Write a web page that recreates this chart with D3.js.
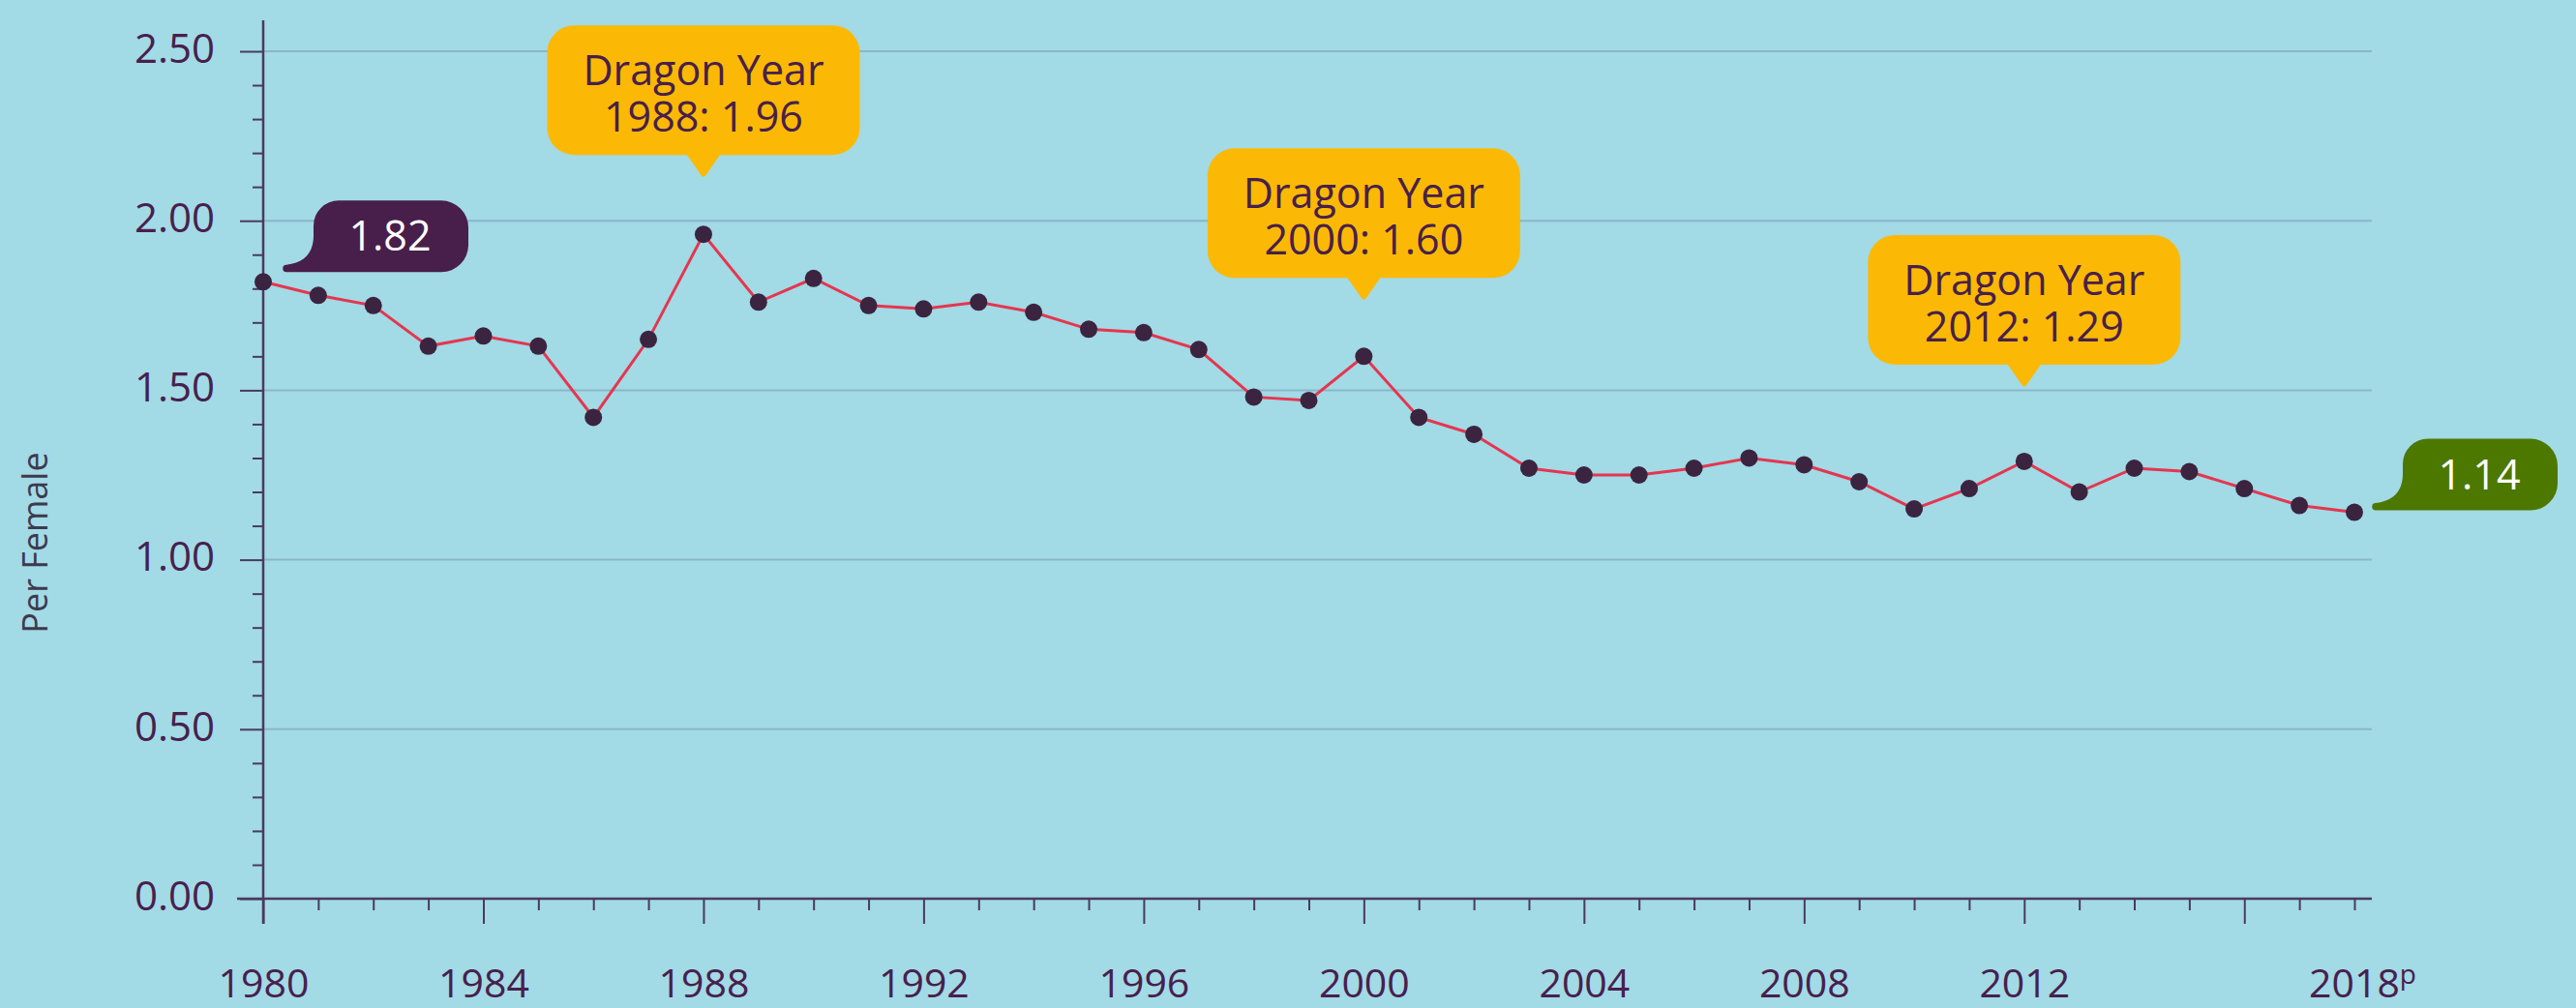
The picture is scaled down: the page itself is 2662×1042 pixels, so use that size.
<!DOCTYPE html>
<html>
<head>
<meta charset="utf-8">
<script src="https://cdn.jsdelivr.net/npm/d3@7"></script>
<style>
  body { margin: 0; background: #a2dae6; }
  text { font-family: "Open Sans", "Noto Sans", sans-serif; }
</style>
</head>
<body>
<div id="chart"></div>
<script>
// data
var years = [1980, 1981, 1982, 1983, 1984, 1985, 1986, 1987, 1988, 1989,
  1990, 1991, 1992, 1993, 1994, 1995, 1996, 1997, 1998, 1999,
  2000, 2001, 2002, 2003, 2004, 2005, 2006, 2007, 2008, 2009,
  2010, 2011, 2012, 2013, 2014, 2015, 2016, 2017, 2018];
var tfr = [1.82, 1.78, 1.75, 1.63, 1.66, 1.63, 1.42, 1.65, 1.96, 1.76,
  1.83, 1.75, 1.74, 1.76, 1.73, 1.68, 1.67, 1.62, 1.48, 1.47,
  1.60, 1.42, 1.37, 1.27, 1.25, 1.25, 1.27, 1.30, 1.28, 1.23,
  1.15, 1.21, 1.29, 1.20, 1.27, 1.26, 1.21, 1.16, 1.14];
var majorYears = [1980, 1984, 1988, 1992, 1996, 2000, 2004, 2008, 2012, 2016];
var labelYears = [1980, 1984, 1988, 1992, 1996, 2000, 2004, 2008, 2012, 2018];
var yTicks = [0, 0.1, 0.2, 0.3, 0.4, 0.5, 0.6, 0.7, 0.8, 0.9, 1.0, 1.1, 1.2,
  1.3, 1.4, 1.5, 1.6, 1.7, 1.8, 1.9, 2.0, 2.1, 2.2, 2.3, 2.4, 2.5];
var yLabels = [0, 0.5, 1.0, 1.5, 2.0, 2.5];
var dragonYears = [1988, 2000, 2012];
var yTitle = "Per Female";

var svgWidth = 2662;
var svgHeight = 1042;

var margin = {
  top: 53,
  right: 229,
  bottom: 113,
  left: 272
};

var width = svgWidth - margin.left - margin.right;
var height = svgHeight - margin.top - margin.bottom;

var ink = "#4b3a5c";
var labelColor = "#48204c";

var svg = d3.select("#chart")
  .append("svg")
  .attr("width", svgWidth)
  .attr("height", svgHeight);

svg.append("rect")
  .attr("width", svgWidth)
  .attr("height", svgHeight)
  .attr("fill", "#a2dae6");

var chartGroup = svg.append("g")
  .attr("transform", `translate(${margin.left}, ${margin.top})`);

var x = d3.scaleLinear().domain([1980, 2018]).range([0, width]);
var y = d3.scaleLinear().domain([0, 2.5]).range([height, 0]);
var gridEnd = x(2018) + 18;

var data = years.map((yr, i) => ({ year: yr, value: tfr[i] }));

function isLabel(d) {
  return yLabels.some(v => Math.abs(v - d) < 1e-6);
}

// gridlines
chartGroup.append("g")
  .selectAll("line")
  .data(yLabels.filter(d => d > 0))
  .enter()
  .append("line")
  .attr("x1", 0)
  .attr("x2", gridEnd)
  .attr("y1", d => y(d))
  .attr("y2", d => y(d))
  .attr("stroke", "#8bb6c9")
  .attr("stroke-width", 2);

// y axis
var leftAxis = d3.axisLeft(y)
  .tickValues(yTicks)
  .tickSize(11)
  .tickPadding(39)
  .tickFormat(d => isLabel(d) ? d3.format(".2f")(d) : "");

var yAxis = chartGroup.append("g").call(leftAxis);
yAxis.select(".domain").remove();
yAxis.selectAll(".tick line")
  .attr("stroke", ink)
  .attr("stroke-width", 2)
  .filter(d => isLabel(d))
  .attr("x2", -24);
yAxis.selectAll(".tick text")
  .attr("fill", labelColor)
  .attr("font-size", 42)
  .attr("dy", "0.27em");

// x axis
var bottomAxis = d3.axisBottom(x)
  .tickValues(years)
  .tickSize(12)
  .tickFormat(d => labelYears.includes(d) ? String(d) : "");

var xAxis = chartGroup.append("g")
  .attr("transform", `translate(0, ${height})`)
  .call(bottomAxis);
xAxis.select(".domain").remove();
xAxis.selectAll(".tick line")
  .attr("stroke", ink)
  .attr("stroke-width", 2)
  .filter(d => majorYears.includes(d))
  .attr("y2", 26);
xAxis.selectAll(".tick text")
  .attr("fill", labelColor)
  .attr("font-size", 41)
  .attr("y", 102)
  .attr("dy", 0);

// projected-year superscript
xAxis.selectAll(".tick text")
  .filter(d => d === 2018)
  .attr("x", 8)
  .append("tspan")
  .attr("font-size", 28)
  .attr("dy", -14)
  .text("p");

// axis lines
chartGroup.append("line")
  .attr("x1", -27).attr("x2", gridEnd)
  .attr("y1", height).attr("y2", height)
  .attr("stroke", ink).attr("stroke-width", 2.5);
chartGroup.append("line")
  .attr("x1", 0).attr("x2", 0)
  .attr("y1", y(2.5) - 32).attr("y2", height + 26)
  .attr("stroke", ink).attr("stroke-width", 2.5);

// y title
svg.append("text")
  .attr("transform", "translate(49, 561) rotate(-90)")
  .attr("text-anchor", "middle")
  .attr("font-size", 36)
  .attr("fill", "#3e3a4c")
  .text(yTitle);

// line + dots
var line = d3.line()
  .x(d => x(d.year))
  .y(d => y(d.value));

chartGroup.append("path")
  .datum(data)
  .attr("d", line)
  .attr("fill", "none")
  .attr("stroke", "#e5364f")
  .attr("stroke-width", 3);

chartGroup.selectAll("circle")
  .data(data)
  .enter()
  .append("circle")
  .attr("cx", d => x(d.year))
  .attr("cy", d => y(d.value))
  .attr("r", 9)
  .attr("fill", "#3b2440");

// dragon year callouts (tip sits above the point)
var lift = { 1988: 59, 2000: 58, 2012: 77 };
var calloutPath = "M17,-23 L133.5,-23 A28,28 0 0 0 161.5,-51 L161.5,-129 A28,28 0 0 0 133.5,-157 " +
  "L-133.5,-157 A28,28 0 0 0 -161.5,-129 L-161.5,-51 A28,28 0 0 0 -133.5,-23 L-17,-23 " +
  "L-3,-3 Q0,2 3,-3 Z";

var callouts = chartGroup.selectAll(".callout")
  .data(data.filter(d => dragonYears.includes(d.year)))
  .enter()
  .append("g")
  .attr("class", "callout")
  .attr("transform", d => `translate(${x(d.year)}, ${y(d.value) - lift[d.year]})`);

callouts.append("path")
  .attr("d", calloutPath)
  .attr("fill", "#fbb906");

var calloutText = callouts.append("text")
  .attr("text-anchor", "middle")
  .attr("font-size", 43)
  .attr("fill", "#48204a");

calloutText.append("tspan")
  .attr("x", 0)
  .attr("y", -95)
  .text("Dragon Year");

calloutText.append("tspan")
  .attr("x", 0)
  .attr("y", -47)
  .text(d => `${d.year}: ${d3.format(".2f")(d.value)}`);

// start / end value tags
var tagPath = "M3,-3.5 C22,-6 31,-16 31,-34 L31,-44 A26,26 0 0 1 57,-70 L163,-70 " +
  "A28,28 0 0 1 191,-42 L191,-24 A28,28 0 0 1 163,4 L3,4 A3.75,3.75 0 0 1 3,-3.5 Z";

var ends = [
  { d: data[0], color: "#481f4a", dx: 21, dy: -14 },
  { d: data[data.length - 1], color: "#4c7800", dx: 19, dy: -6 }
];

var tags = chartGroup.selectAll(".tag")
  .data(ends)
  .enter()
  .append("g")
  .attr("class", "tag")
  .attr("transform", e => `translate(${x(e.d.year) + e.dx}, ${y(e.d.value) + e.dy})`);

tags.append("path")
  .attr("d", tagPath)
  .attr("fill", e => e.color);

tags.append("text")
  .attr("x", 110)
  .attr("y", -18)
  .attr("text-anchor", "middle")
  .attr("font-size", 43)
  .attr("fill", "#ffffff")
  .text(e => d3.format(".2f")(e.d.value));
</script>
</body>
</html>
